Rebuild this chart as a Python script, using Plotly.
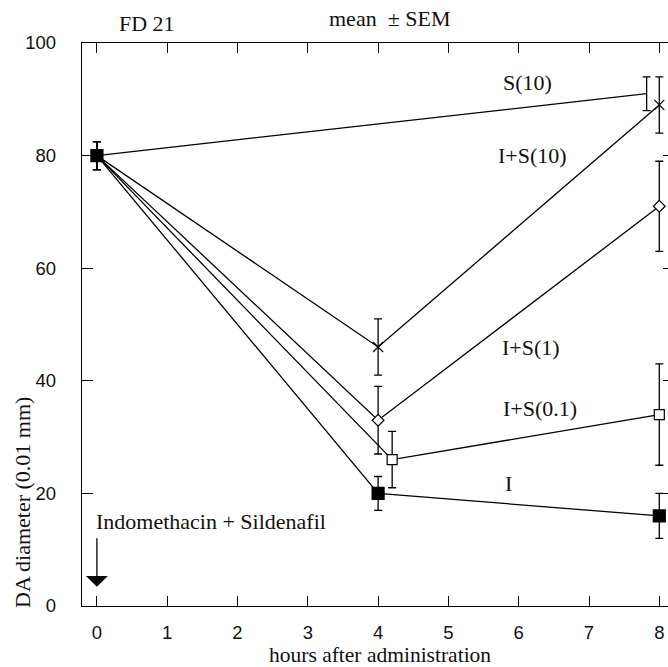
import plotly.graph_objects as go

# ---- data ----
x_tick_vals = [0, 1, 2, 3, 4, 5, 6, 7, 8]
y_tick_vals = [0, 20, 40, 60, 80, 100]

s10_x = [0, 7.82]
s10_y = [80, 91]
s10_e = [2.5, 3]

is10_x = [0, 4, 8]
is10_y = [80, 46, 89]
is10_e = [2.5, 5, 5]

is1_x = [0, 4, 8]
is1_y = [80, 33, 71]
is1_e = [2.5, 6, 8]

is01_x = [0, 4.2, 8]
is01_y = [80, 26, 34]
is01_e = [2.5, 5, 9]

i_x = [0, 4, 8]
i_y = [80, 20, 16]
i_e = [2.5, 3, 4]

labels = ["S(10)", "I+S(10)", "I+S(1)", "I+S(0.1)", "I"]
label_x = [6.13, 6.2, 6.18, 6.3, 5.85]
label_y = [93, 80, 46, 35, 21.8]

SERIF = "Liberation Serif"
SANS = "Liberation Sans"
LW = 1.3
TXT = "#111"

# figure geometry (the frame's right edge lies just past the visible window)
W, H = 674, 667
ML, MT, MB, MR = 82, 43, 61, 0
PW = W - ML - MR
PH = H - MT - MB


def px(xp):
    return (xp - ML) / PW


def py(yp):
    return (H - MB - yp) / PH


fig = go.Figure()


def add_series(x, y, e, symbol, size, mode="lines+markers", color="black"):
    fig.add_trace(go.Scatter(
        x=x, y=y, mode=mode,
        line=dict(color="black", width=LW),
        marker=dict(symbol=symbol, size=size, color=color,
                    line=dict(color="black", width=1.2)),
        error_y=dict(type="data", array=e, visible=True, color="black",
                     thickness=LW, width=4),
        showlegend=False, hoverinfo="skip",
    ))


add_series(s10_x, s10_y, s10_e, "line-ew", 1, mode="lines")
add_series(is10_x, is10_y, is10_e, "x-thin-open", 10)
add_series(is1_x, is1_y, is1_e, "diamond", 9, color="white")
add_series(is01_x, is01_y, is01_e, "square", 10, color="white")
add_series(i_x, i_y, i_e, "square", 12)

annotations = []
for t, lx, ly in zip(labels, label_x, label_y):
    annotations.append(dict(x=lx, y=ly, xref="x", yref="y", text=t,
                            xanchor="center", yanchor="middle",
                            showarrow=False, font=dict(family=SERIF, size=22, color=TXT)))

# arrow with caption
annotations.append(dict(x=0, y=3.4, ax=0, ay=12.3, xref="x", yref="y",
                        axref="x", ayref="y", text="", showarrow=True,
                        arrowhead=1, arrowsize=2.8, arrowwidth=1.3, arrowcolor="black",
                        standoff=0))
annotations.append(dict(x=0, y=15.0, xref="x", yref="y", xanchor="left", yanchor="middle",
                        xshift=-3,
                        text="Indomethacin + Sildenafil", showarrow=False,
                        font=dict(family=SERIF, size=22, color=TXT)))

# header texts
annotations.append(dict(x=px(147), y=py(23), xref="paper", yref="paper",
                        xanchor="center", yanchor="middle",
                        text="FD 21", showarrow=False,
                        font=dict(family=SERIF, size=22, color=TXT)))
annotations.append(dict(x=px(452), y=py(19), xref="paper", yref="paper",
                        xanchor="right", yanchor="middle",
                        text="mean  \u00b1 SEM", showarrow=False,
                        font=dict(family=SERIF, size=22, color=TXT)))

# axis titles
annotations.append(dict(x=4.03, y=py(655), xref="x", yref="paper",
                        xanchor="center", yanchor="middle",
                        text="hours after administration", showarrow=False,
                        font=dict(family=SERIF, size=21.5, color=TXT)))
annotations.append(dict(x=px(23), y=18.3, xref="paper", yref="y", textangle=-90,
                        xanchor="center", yanchor="middle",
                        text="DA diameter (0.01 mm)", showarrow=False,
                        font=dict(family=SERIF, size=22, color=TXT)))

x_right = -0.212 + PW / 70.3

fig.update_layout(
    width=W, height=H,
    margin=dict(l=ML, r=MR, t=MT, b=MB, pad=0),
    plot_bgcolor="white", paper_bgcolor="white",
    annotations=annotations,
    xaxis=dict(range=[-0.212, x_right], tickvals=x_tick_vals, ticks="inside", ticklen=10,
               tickwidth=1.3, tickcolor="black", showline=True, linecolor="black",
               linewidth=1.3, mirror="ticks", showgrid=False, zeroline=False,
               tickfont=dict(family=SANS, size=18.5, color=TXT),
               ticklabelstandoff=10),
    yaxis=dict(range=[0, 100], tickvals=y_tick_vals, ticks="inside", ticklen=11,
               tickwidth=1.3, tickcolor="black", showline=True, linecolor="black",
               linewidth=1.3, mirror="ticks", showgrid=False, zeroline=False,
               tickfont=dict(family=SANS, size=18.5, color=TXT),
               ticklabelstandoff=21),
)

fig.write_html(
    "out.html",
    config={"displayModeBar": False},
    post_script="document.documentElement.style.overflow='hidden';"
                "document.body.style.margin='0';document.body.style.overflow='hidden';",
)
